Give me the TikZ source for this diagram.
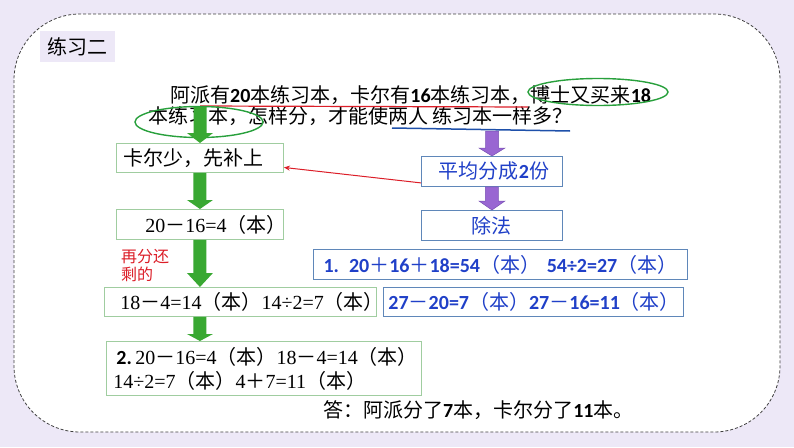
\documentclass[tikz,border=0pt]{standalone}
\usepackage{fontspec}
\setmainfont{Liberation Serif}
\newfontfamily\cjk{Noto Sans CJK SC}
\newfontfamily\carl{Carlito}
\usetikzlibrary{shapes.geometric,arrows.meta,calc}
\definecolor{bgl}{RGB}{237,232,247}
\definecolor{boxgreen}{RGB}{160,205,160}
\definecolor{boxblue}{RGB}{95,135,185}
\definecolor{txtblue}{RGB}{32,64,200}
\definecolor{arrgreen}{RGB}{57,168,50}
\definecolor{ellgreen}{RGB}{40,160,60}
\definecolor{arrpurple}{RGB}{153,102,210}
\definecolor{arrpurpled}{RGB}{120,80,180}
\definecolor{myred}{RGB}{220,30,40}
\definecolor{ublue}{RGB}{30,80,170}
\newcommand\zh[1]{{\cjk #1}}
\newcommand\nb[1]{{\carl\bfseries #1}}
\newcommand\fz{\fontsize{20}{24}\selectfont}
\begin{document}
\begin{tikzpicture}[x=1pt,y=-1pt,
  gbox/.style={draw=boxgreen, line width=0.9pt, fill=white, anchor=north west,
    inner xsep=0pt, inner ysep=0pt, font=\fz, align=left},
  bbox/.style={draw=boxblue, line width=0.9pt, fill=white, anchor=north west,
    inner xsep=0pt, inner ysep=0pt, font=\fz, text=txtblue},
  fatarrow/.style={to path={let \p1=(\tikztostart), \p2=(\tikztotarget) in
    (\x1-6.5pt,\y1) -- (\x1+6.5pt,\y1) -- (\x1+6.5pt,\y2+#1) -- (\x1+13pt,\y2+#1)
    -- (\x1,\y2) -- (\x1-13pt,\y2+#1) -- (\x1-6.5pt,\y2+#1) -- cycle}},
  fatarrow/.default=11pt,
  fatg/.style={fill=arrgreen, draw=none, fatarrow=#1},
  fatg/.default=11pt,
  fatp/.style={fill=arrpurple, draw=arrpurpled, line width=0.5pt, fatarrow=#1},
  fatp/.default=9pt,
  ell/.style={ellipse, draw=ellgreen, line width=1.4pt, inner sep=0pt},
  qtext/.style={anchor=base west, inner sep=0pt, font=\fz}
]
% background
\fill[bgl] (0,0) rectangle (794,447);
\draw[fill=white, draw=black!75, line width=0.8pt, dash pattern=on 3pt off 2pt,
  rounded corners=66pt] (14,14) rectangle (780,432);
% label
\node[fill=bgl, anchor=north west, minimum width=75pt, minimum height=31pt,
  inner sep=0pt, font=\fz] (lab) at (40,31) {\zh{练习二}};
% question
\node[qtext] (q1) at (170,102) {\zh{阿派有}\nb{20}\zh{本练习本，卡尔有}\nb{16}\zh{本练习本，博士又买来}\nb{18}};
\node[qtext] (q2) at (148,123) {\zh{本练习本，怎样分，才能使两人 练习本一样多？}};
\draw[myred, line width=1.2pt] (200,106) -- (528,107);
\draw[ublue, line width=1.5pt] (392,128) -- (570,131);
\node[ell, minimum width=140pt, minimum height=27pt] (e1) at (598,92) {};
\node[ell, minimum width=128pt, minimum height=31pt] (e2) at (199,122) {};
% left column
\node[gbox, text width=167pt, minimum height=29pt] (b1) at (116,143) {\hspace*{7pt}\zh{卡尔少，先补上}};
\node[gbox, text width=167pt, minimum height=30pt] (b2) at (116,209) {\hspace*{29pt}20\zh{－}16=4\zh{（本）}};
\node[anchor=north west, inner sep=0pt, font=\cjk\fontsize{16}{18}\selectfont, text=myred, align=left]
  (rt) at (121,249) {再分还\\剩的};
\node[gbox, text width=272pt, minimum height=29pt] (b3) at (104,287) {\mbox{\hspace*{16pt}18\zh{－}4=14\zh{（本）}14÷2=7\zh{（本）}}};
\node[gbox, text width=315pt, minimum height=54pt] (b4) at (106,341)
  {\mbox{\hspace*{10pt}\nb{2.}\,20\zh{－}16=4\zh{（本）}18\zh{－}4=14\zh{（本）}}\\
   \mbox{\hspace*{7pt}14÷2=7\zh{（本）}4\zh{＋}7=11\zh{（本）}}};
\node[qtext] (ans) at (323,417) {\zh{答：阿派分了}\nb{7}\zh{本，卡尔分了}\nb{11}\zh{本。}};
% right column
\node[bbox, text width=141pt, minimum height=30pt, align=center] (pj) at (421,156) {\hspace*{4pt}\zh{平均分成}\nb{2}\zh{份}};
\node[bbox, text width=141pt, minimum height=30pt, align=center] (cf) at (421,210) {\zh{除法}};
\node[bbox, text width=374pt, minimum height=30pt, align=center] (s1) at (313,249)
  {\nb{1. 20}\zh{＋}\nb{16}\zh{＋}\nb{18=54}\zh{（本）} \nb{54÷2=27}\zh{（本）}};
\node[bbox, text width=300pt, minimum height=29pt, align=left] (s2) at (383,287)
  {\hspace*{5pt}\nb{27}\zh{－}\nb{20=7}\zh{（本）}\nb{27}\zh{－}\nb{16=11}\zh{（本）}};
% connectors
\coordinate (c1) at (200,107);
\coordinate (c2) at (492,131);
\path[fatg=10pt] (c1) to (b1.north);
\path[fatg=9pt] (b1.south) to (b2.north);
\path[fatg=14pt] (b2.south) to (b3.north);
\path[fatg=7pt] (b2.south |- b3.south) to (b4.north);
\path[fatp=8pt] (c2) to (pj.north);
\path[fatp=9pt] (pj.south) to (cf.north);
\draw[myred, line width=1pt, -{Stealth[length=6pt,width=5pt]}] ([yshift=4pt]pj.south west) -- ([yshift=-9.5pt]b1.east);
\end{tikzpicture}
\end{document}
